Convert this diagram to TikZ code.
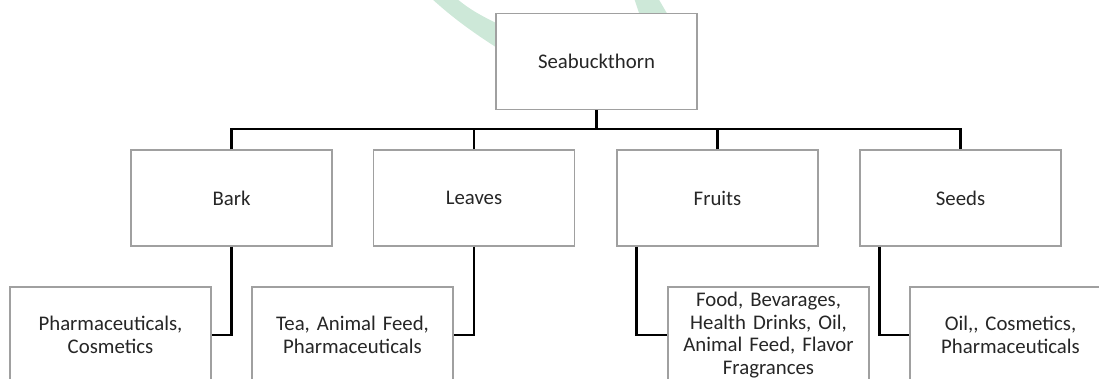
\documentclass[tikz,border=0pt]{standalone}
\usepackage{fontspec}
\setmainfont{Carlito}
\frenchspacing
\definecolor{wmgreen}{RGB}{205,232,216}
\definecolor{boxgray}{RGB}{160,160,160}
\definecolor{txtgray}{RGB}{38,38,38}
\begin{document}
\begin{tikzpicture}[x=1pt,y=-1pt,
		box/.style={draw=boxgray,line width=1.2pt,fill=white,
			minimum width=201pt,minimum height=96pt,text width=196pt,
			inner sep=0pt,align=center,text=txtgray,
			font=\fontsize{20.8}{22.8}\selectfont\frenchspacing},
		link/.style={line width=2.5pt,black}]
		\useasboundingbox (0,0) rectangle (1099,378);
		\clip (0,0) rectangle (1099,378);

		% watermark behind the top box
		\fill[wmgreen] (431,-2) -- (456,-2) .. controls (470,10) and (484,18) .. (520,34)
			-- (520,62) .. controls (480,38) and (455,20) .. cycle;
		\fill[wmgreen] (634,-2) -- (658,-2) -- (672,22) -- (642,22) -- cycle;

		% boxes
		\node[box] (root) at (596.5,61.5) {Seabuckthorn};

		\node[box] (bark) at (231.5,198) {Bark};
		\node[box] (leaves) at (474,198) {Leaves};
		\node[box] (fruits) at (717.5,198) {Fruits};
		\node[box] (seeds) at (960.5,198) {Seeds};

		\node[box] (barkuse) at (110.5,335) {Pharmaceuticals,\\Cosmetics};
		\node[box] (leafuse) at (352.5,335) {Tea, Animal Feed,\\Pharmaceuticals};
		\node[box] (fruituse) at (768.5,335) {Food, Bevarages,\\Health Drinks, Oil,\\Animal Feed, Flavor\\Fragrances};
		\node[box] (seeduse) at (1010.5,335) {Oil,{},{} Cosmetics,\\Pharmaceuticals};

		% connectors
		\coordinate (bus) at (596.5,129);
		\draw[link] (root.south) -- (bus);
		\draw[link] (bark.north) |- (bus) -| (seeds.north);
		\draw[link] (leaves.north) -- (leaves.north |- bus);
		\draw[link] (fruits.north) -- (fruits.north |- bus);

		\draw[link] (bark.south) |- (barkuse.east);
		\draw[link] (leaves.south) |- (leafuse.east);
		\draw[link] ([xshift=20pt]fruits.south west) |- (fruituse.west);
		\draw[link] ([xshift=20pt]seeds.south west) |- (seeduse.west);
	\end{tikzpicture}
\end{document}
